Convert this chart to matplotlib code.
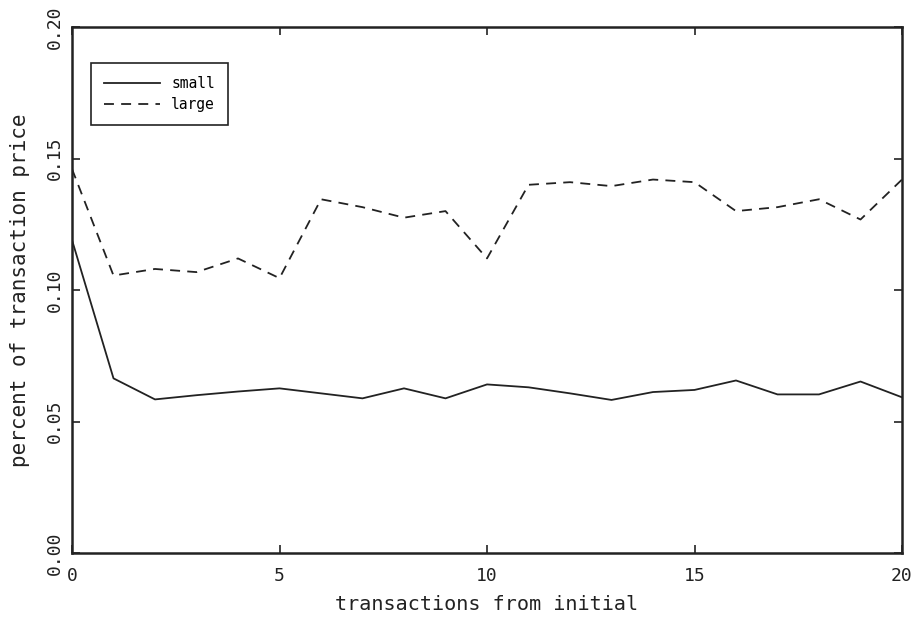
import matplotlib
matplotlib.use('Agg')
import matplotlib.pyplot as plt
import numpy as np

# transactions from initial
steps = list(range(21))
# percent of transaction price
small = [0.119, 0.0664, 0.0584, 0.0600, 0.0614, 0.0626, 0.0607, 0.0588, 0.0626, 0.0588,
         0.0641, 0.0630, 0.0607, 0.0582, 0.0612, 0.0620, 0.0656, 0.0603, 0.0603, 0.0652, 0.0592]
large = [0.146, 0.1055, 0.1080, 0.1068, 0.1120, 0.1045, 0.1345, 0.1315, 0.1275, 0.1300,
         0.1120, 0.1400, 0.1410, 0.1395, 0.1420, 0.1410, 0.1300, 0.1315, 0.1345, 0.1268, 0.1420]

xticks = [0, 5, 10, 15, 20]
yticks = [0.00, 0.05, 0.10, 0.15, 0.20]

# evenly spaced letters look closer to the old plotter font
plt.rcParams['font.family'] = ['DejaVu Sans Mono', 'DejaVu Sans']
ink = '#222222'

fig = plt.figure(figsize=(9.24, 6.28), dpi=100)
ax = fig.add_axes([72 / 924, 1 - 553 / 628, 830 / 924, 526 / 628])

ax.plot(steps, small, color=ink, lw=1.3, label='small')
ax.plot(steps, large, color=ink, lw=1.3, dashes=(5.5, 4), label='large')

ax.set_xlim(0, 20)
ax.set_ylim(0, 0.20)
ax.set_xticks(xticks)
ax.set_yticks(yticks)
ax.set_yticklabels(['%.2f' % v for v in yticks], rotation=90, va='center')

for s in ax.spines.values():
    s.set_linewidth(1.8)
    s.set_color(ink)
ax.tick_params(direction='in', length=6, width=1.2, top=True, right=True,
               labelsize=13, labelcolor=ink, color=ink)
ax.tick_params(axis='x', pad=10)
ax.tick_params(axis='y', pad=6)

ax.set_xlabel('transactions from initial', fontsize=14.5, color=ink, labelpad=7)
ax.set_ylabel('percent of transaction price', fontsize=15, color=ink, labelpad=11)

leg = ax.legend(loc='upper left', bbox_to_anchor=(0.023, 0.932), fontsize=10.5,
                frameon=True, fancybox=False, framealpha=1, edgecolor=ink,
                handlelength=3.8, borderpad=0.9, labelspacing=0.4, borderaxespad=0)
leg.get_frame().set_linewidth(1.2)

fig.savefig('out.png', dpi=100)
